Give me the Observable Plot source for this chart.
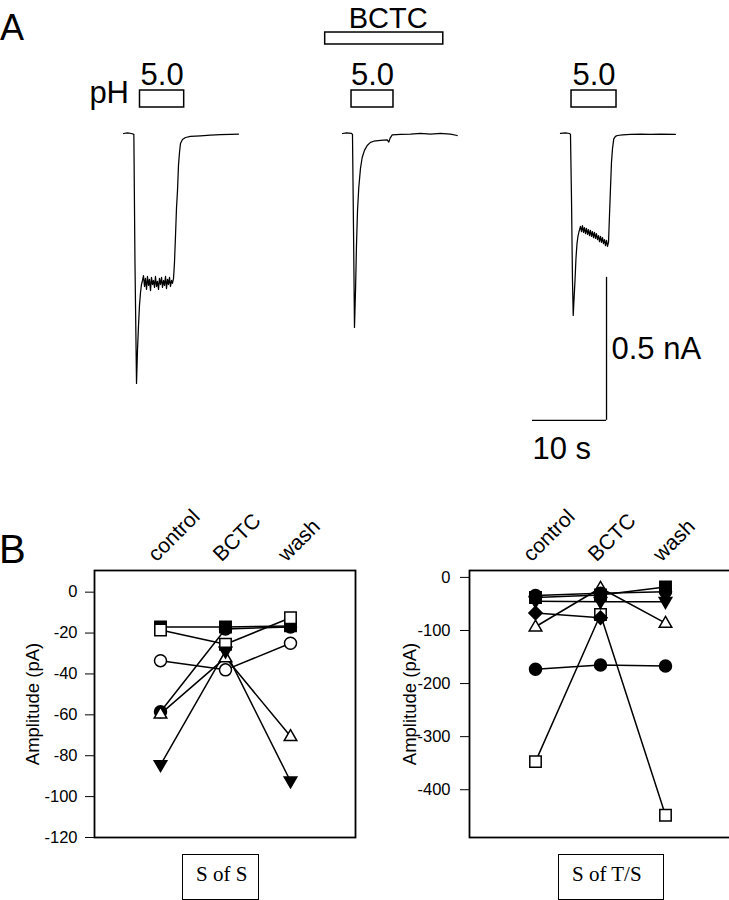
<!DOCTYPE html>
<html><head><meta charset="utf-8">
<script src="https://cdn.jsdelivr.net/npm/d3@7"></script>
<script src="https://cdn.jsdelivr.net/npm/@observablehq/plot@0.6"></script>
<style>
html,body{margin:0;padding:0;background:#fff;overflow:hidden}
#fig{position:relative;width:729px;height:900px;overflow:hidden;background:#fff;font-family:"Liberation Sans",Arial,Helvetica,sans-serif}
#fig svg{position:absolute}
.letter{position:absolute;line-height:1;color:#000;font-family:"Liberation Sans",Arial,Helvetica,sans-serif}
.cap{position:absolute;border:1.5px solid #000;box-sizing:border-box;font-family:"Liberation Serif","Times New Roman",serif;font-size:21px;line-height:1;padding-left:13px;padding-top:9px;color:#000;white-space:nowrap}
</style></head><body><div id="fig"></div>
<script>
// ---------------- DATA ----------------
const conditions = ["control", "BCTC", "wash"];
const pulseLabel = "5.0";
const pulseUnit = "pH";
const drugLabel = "BCTC";

// Panel A: current traces, [time (s), current (nA)]
const traceControl = [[0,0],[0.54,0.002],[1.08,0],[1.40,-0.003],[1.55,-0.450],[1.76,-0.874],[1.89,-0.759],[2.03,-0.671],[2.16,-0.601],[2.30,-0.556],[2.43,-0.528],[2.57,-0.514],
[2.70,-0.497],[2.84,-0.535],[2.97,-0.507],[3.11,-0.545],[3.24,-0.500],[3.38,-0.531],[3.51,-0.510],[3.65,-0.549],[3.78,-0.503],[3.92,-0.528],[4.05,-0.514],[4.19,-0.538],[4.32,-0.500],[4.46,-0.535],[4.59,-0.517],[4.73,-0.545],[4.86,-0.507],[5.00,-0.528],[5.14,-0.503],[5.27,-0.538],[5.41,-0.514],[5.54,-0.531],[5.68,-0.500],[5.81,-0.542],[5.95,-0.510],[6.08,-0.528],[6.22,-0.503],[6.35,-0.535],[6.49,-0.514],[6.62,-0.524],[6.76,-0.507],
[6.89,-0.451],[7.03,-0.357],[7.16,-0.262],[7.30,-0.199],[7.43,-0.112],[7.57,-0.066],[7.70,-0.035],[7.97,-0.021],[8.38,-0.014],[9.05,-0.010],[10.41,-0.008],[11.76,-0.006],[13.11,-0.004],[14.46,-0.003],[15.54,-0.002]];
const traceBCTC = [[0,0],[0.54,0.002],[1.22,0],[1.35,-0.003],[1.49,-0.339],[1.62,-0.678],[1.76,-0.549],[1.89,-0.392],[2.03,-0.269],[2.20,-0.189],[2.43,-0.122],[2.66,-0.084],[2.97,-0.059],[3.34,-0.042],[3.78,-0.031],[4.23,-0.027],[5.14,-0.024],[6.04,-0.022],[6.26,-0.030],[6.42,-0.017],[6.72,-0.005],[7.84,-0.003],[9.19,-0.002],[10.54,0],[11.89,-0.002],[13.24,0],[14.59,-0.002],[15.5,-0.007]];
const traceWash = [[0,0],[0.68,0.002],[1.22,0],[1.35,-0.003],[1.49,-0.234],[1.62,-0.514],[1.72,-0.636],[1.82,-0.584],[1.96,-0.514],[2.09,-0.437],[2.23,-0.385],[2.36,-0.360],[2.50,-0.343],
[2.70,-0.325],[2.84,-0.343],[2.97,-0.322],[3.11,-0.346],[3.24,-0.329],[3.38,-0.350],[3.51,-0.332],[3.65,-0.353],[3.78,-0.336],[3.92,-0.357],[4.05,-0.339],[4.19,-0.360],[4.32,-0.343],[4.46,-0.364],[4.59,-0.346],[4.73,-0.367],[4.86,-0.350],[5.00,-0.371],[5.14,-0.357],[5.27,-0.378],[5.41,-0.360],[5.54,-0.381],[5.68,-0.364],[5.81,-0.385],[5.95,-0.371],[6.08,-0.392],[6.22,-0.374],[6.35,-0.395],[6.49,-0.381],
[6.62,-0.287],[6.76,-0.189],[6.89,-0.101],[7.03,-0.052],[7.20,-0.019],[7.43,-0.010],[7.70,-0.007],[8.38,-0.005],[9.46,-0.003],[10.81,-0.002],[12.16,-0.003],[13.51,-0.002],[15.54,-0.003]];

// pH 5.0 pulse timing within each sweep (s)
const pulseOn = [2.23, 1.22, 1.49];
const pulseOff = [8.20, 6.89, 7.57];
// BCTC application bar (s, relative to the BCTC sweep)
const bctcOn = -2.34;
const bctcOff = 13.62;
// scale bar values
const scaleTime = 10;   // s
const scaleCurrent = 0.5; // nA
const scaleTimeLabel = "10 s";
const scaleCurrentLabel = "0.5 nA";

// Panel B: amplitudes (pA) for control, BCTC, wash
// S of S
const sosFilledSquare = [-17, -17, -16.5];
const sosFilledCircle = [-58.5, -18, -17];
const sosOpenSquare = [-18.5, -25.5, -12.5];
const sosOpenCircle = [-33.5, -38, -25];
const sosOpenTriangle = [-59.5, -32, -70.5];
const sosFilledDownTriangle = [-84.5, -29, -92.5];
// S of T/S
const stsFilledCircleLarge = [-173, -165, -167];
const stsOpenSquare = [-347, -70, -448];
const stsFilledDiamond = [-67, -76, null];
const stsOpenTriangle = [-93, -20, -86];
const stsFilledDownTriangle = [-45, -46, -46];
const stsFilledSquare = [-38, -33, -18];
const stsFilledCircle = [-34, -30, -27];

const sosTicks = [0, -20, -40, -60, -80, -100, -120];
const stsTicks = [0, -100, -200, -300, -400];
const yLabel = "Amplitude (pA)";
const sosName = "S of S";
const stsName = "S of T/S";

// ---------------- STYLE / LAYOUT ----------------
const FONT = '"Liberation Sans", Arial, Helvetica, sans-serif';
const fig = document.getElementById("fig");
function place(el, left, top) { el.style.left = left + "px"; el.style.top = top + "px"; fig.appendChild(el); }

// custom marker symbols (scaled by r)
const rOf = size => Math.sqrt(size / Math.PI);
const symCircle = {draw(c, size){ const r = rOf(size); c.moveTo(r, 0); c.arc(0, 0, r, 0, 2*Math.PI); c.closePath(); }};
const symSquare = {draw(c, size){ const h = 0.95*rOf(size); c.rect(-h, -h, 2*h, 2*h); }};
const symTriUp = {draw(c, size){ const r = rOf(size); c.moveTo(0, -1.1*r); c.lineTo(1.05*r, 0.7*r); c.lineTo(-1.05*r, 0.7*r); c.closePath(); }};
const symTriDown = {draw(c, size){ const r = rOf(size); c.moveTo(0, 1.1*r); c.lineTo(1.05*r, -0.7*r); c.lineTo(-1.05*r, -0.7*r); c.closePath(); }};
const symDiamond = {draw(c, size){ const r = 1.1*rOf(size); c.moveTo(0, -r); c.lineTo(r, 0); c.lineTo(0, r); c.lineTo(-r, 0); c.closePath(); }};

// ---------------- PANEL A ----------------
const PX_PER_S = 7.4;
const PX_PER_NA = 286;
const baselinePx = 133;
const sweepStartPx = [123, 342, 560];
const A_H = 470;
const yDomA = [-(A_H - baselinePx) / PX_PER_NA, baselinePx / PX_PER_NA];
// annotation levels (nA) in the panel's frame
const pulseBottom = 0.0909, pulseTop = 0.1503, pulseTextY = 0.168;
const bctcBottom = 0.3112, bctcTop = 0.3531, bctcTextY = 0.3706;
const barCornerT = 6.22, barCornerI = -1.003;

function sweepChart(trace, k, extras) {
  const mL = 60, mR = 110, T = 16;
  return Plot.plot({
    width: mL + T * PX_PER_S + mR, height: A_H,
    marginLeft: mL, marginRight: mR, marginTop: 0, marginBottom: 0,
    x: {domain: [0, T], axis: null},
    y: {domain: yDomA, axis: null},
    style: {background: "transparent", overflow: "visible", fontFamily: FONT},
    marks: [
      Plot.line(trace, {x: d => d[0], y: d => d[1], stroke: "black", strokeWidth: 1.25}),
      Plot.rect([k], {x1: i => pulseOn[i], x2: i => pulseOff[i], y1: () => pulseBottom, y2: () => pulseTop, fill: "white", stroke: "black", strokeWidth: 1.5}),
      Plot.text([k], {x: i => (pulseOn[i] + pulseOff[i]) / 2, y: () => pulseTextY, text: () => pulseLabel, fontSize: 31, lineAnchor: "bottom", fill: "black"}),
      ...extras
    ]
  });
}

const chartA0 = sweepChart(traceControl, 0, [
  Plot.text([0], {x: i => pulseOn[i], y: () => 0.105, text: () => pulseUnit, textAnchor: "end", dx: -11, lineAnchor: "bottom", fontSize: 31, fill: "black"})
]);
const chartA1 = sweepChart(traceBCTC, 1, [
  Plot.rect([0], {x1: () => bctcOn, x2: () => bctcOff, y1: () => bctcBottom, y2: () => bctcTop, fill: "white", stroke: "black", strokeWidth: 1.5}),
  Plot.text([0], {x: () => (bctcOn + bctcOff) / 2, y: () => bctcTextY, text: () => drugLabel, dx: 4, lineAnchor: "bottom", fontSize: 29, fill: "black"})
]);
const chartA2 = sweepChart(traceWash, 2, [
  Plot.ruleX([0], {x: () => barCornerT, y1: () => barCornerI, y2: () => barCornerI + scaleCurrent, stroke: "black", strokeWidth: 1.3}),
  Plot.ruleY([0], {y: () => barCornerI, x1: () => barCornerT - scaleTime, x2: () => barCornerT, stroke: "black", strokeWidth: 1.3}),
  Plot.text([0], {x: () => barCornerT, y: () => barCornerI + scaleCurrent / 2, text: () => scaleCurrentLabel, textAnchor: "start", dx: 5, fontSize: 31, fill: "black"}),
  Plot.text([0], {x: () => barCornerT - scaleTime, y: () => barCornerI, text: () => scaleTimeLabel, textAnchor: "start", lineAnchor: "top", dy: 17, fontSize: 31, fill: "black"})
]);
[chartA0, chartA1, chartA2].forEach((c, i) => place(c, sweepStartPx[i] - 60, 0));

// ---------------- PANEL B ----------------
function rowsOf(list) {
  const rows = [];
  for (const [series, values] of list) conditions.forEach((c, i) => rows.push({series, cond: c, v: values[i]}));
  return rows;
}
const sosList = [
  ["filledSquare", sosFilledSquare], ["filledCircle", sosFilledCircle], ["openSquare", sosOpenSquare],
  ["openCircle", sosOpenCircle], ["openTriangle", sosOpenTriangle], ["filledDownTriangle", sosFilledDownTriangle]
];
const stsList = [
  ["filledCircleLarge", stsFilledCircleLarge], ["openSquare", stsOpenSquare], ["filledDiamond", stsFilledDiamond],
  ["openTriangle", stsOpenTriangle], ["filledDownTriangle", stsFilledDownTriangle], ["filledSquare", stsFilledSquare], ["filledCircle", stsFilledCircle]
];
const markerStyle = {
  filledSquare: [symSquare, "black"], filledCircle: [symCircle, "black"], filledCircleLarge: [symCircle, "black"],
  openSquare: [symSquare, "white"], openCircle: [symCircle, "white"], openTriangle: [symTriUp, "white"],
  filledDownTriangle: [symTriDown, "black"], filledDiamond: [symDiamond, "black"]
};

function ampChart(list, yDomain, ticks, mL, tickPad, labelDx) {
  const rows = rowsOf(list);
  return Plot.plot({
    width: 365, height: 367,
    marginLeft: mL, marginRight: 365 - mL - 261, marginTop: 90, marginBottom: 10,
    x: {type: "point", domain: conditions, padding: 1, axis: null},
    y: {domain: yDomain, ticks, tickFormat: d => `${d}`, tickSize: 9, tickPadding: tickPad, label: null},
    style: {background: "transparent", overflow: "visible", fontFamily: FONT, fontSize: "16.5px", color: "black"},
    marks: [
      Plot.frame({stroke: "black", strokeWidth: 1.8}),
      Plot.line(rows, {x: "cond", y: "v", z: "series", stroke: "black", strokeWidth: 1.5}),
      ...list.map(([s]) => Plot.dot(rows.filter(r => r.series === s), {
        x: "cond", y: "v", r: 6, symbol: markerStyle[s][0], fill: markerStyle[s][1], stroke: "black", strokeWidth: 1.5
      })),
      Plot.text(conditions, {x: d => d, frameAnchor: "top", text: d => d, rotate: -45, textAnchor: "start", lineAnchor: "bottom", dx: -4, dy: -8, fontSize: 21, fill: "black"}),
      Plot.text([yLabel], {frameAnchor: "left", text: d => d, rotate: -90, textAnchor: "middle", lineAnchor: "middle", dx: labelDx, fontSize: 18.5, fill: "black"})
    ]
  });
}
place(ampChart(sosList, [-120, 10.6], sosTicks, 94, 8, -61), 0, 480);
place(ampChart(stsList, [-490, 13], stsTicks, 105, 10, -59), 364, 480);

// ---------------- TEXT LABELS ----------------
function letter(t, size, left, baseline) {
  const d = document.createElement("div"); d.className = "letter"; d.textContent = t;
  d.style.fontSize = size + "px"; place(d, left, baseline - 0.8465 * size);
}
letter("A", 36, 0, 40);
letter("B", 40, -1, 563);
function capBox(t, left, width) {
  const d = document.createElement("div"); d.className = "cap"; d.textContent = t;
  d.style.width = width + "px"; d.style.height = "46px"; place(d, left, 854);
}
capBox(sosName, 182, 77);
capBox(stsName, 558, 106);
</script></body></html>
